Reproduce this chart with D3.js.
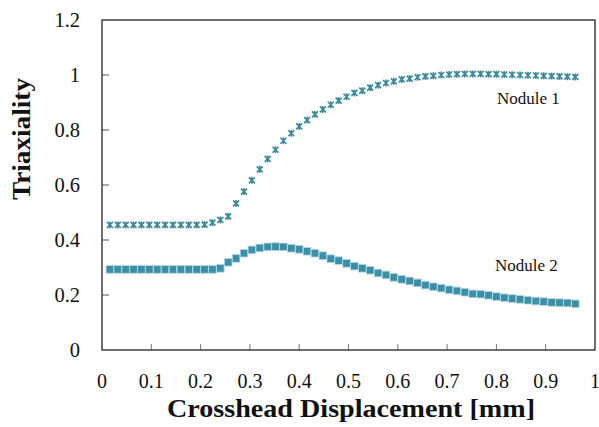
<!DOCTYPE html>
<html>
<head>
<meta charset="utf-8">
<script src="https://cdn.jsdelivr.net/npm/d3@7"></script>
<style>
  body { margin: 0; background: #fff; }
  text { font-family: Garamond, "Liberation Serif", "DejaVu Serif", serif; fill: #111; }
</style>
</head>
<body>
<div id="canvas"></div>
<script>
// DATA
const step = 0.016;
const nodule1 = [
  0.455, 0.455, 0.455, 0.455, 0.455, 0.455, 0.455, 0.455, 0.455, 0.455,
  0.455, 0.455, 0.456, 0.463, 0.473, 0.486, 0.533, 0.576, 0.617, 0.657,
  0.695, 0.728, 0.761, 0.788, 0.813, 0.836, 0.857, 0.875, 0.892, 0.907,
  0.921, 0.935, 0.943, 0.954, 0.963, 0.971, 0.977, 0.984, 0.987, 0.992,
  0.995, 0.997, 1.0, 1.002, 1.003, 1.004, 1.004, 1.004, 1.003, 1.003,
  1.002, 1.001, 1.0, 0.999, 0.998, 0.997, 0.996, 0.995, 0.994, 0.993
];
const nodule2 = [
  0.293, 0.293, 0.293, 0.293, 0.293, 0.293, 0.293, 0.293, 0.293, 0.293,
  0.293, 0.293, 0.293, 0.293, 0.297, 0.319, 0.333, 0.352, 0.364, 0.371,
  0.375, 0.376, 0.375, 0.370, 0.366, 0.359, 0.352, 0.343, 0.332, 0.325,
  0.315, 0.305, 0.297, 0.290, 0.280, 0.273, 0.264, 0.257, 0.251, 0.244,
  0.236, 0.230, 0.225, 0.219, 0.215, 0.210, 0.204, 0.203, 0.199, 0.194,
  0.190, 0.187, 0.184, 0.181, 0.178, 0.176, 0.173, 0.172, 0.171, 0.168
];
const xTicks = [0, 0.1, 0.2, 0.3, 0.4, 0.5, 0.6, 0.7, 0.8, 0.9, 1];
const yTicks = [0, 0.2, 0.4, 0.6, 0.8, 1, 1.2];

// DIMENSIONS
const width = 599;
const height = 427;
const margin = { top: 20, right: 4, bottom: 77, left: 102 };
const plot_width = width - margin.left - margin.right;
const plot_height = height - margin.top - margin.bottom;

const svg = d3.select("#canvas").append("svg")
  .attr("width", width)
  .attr("height", height);

const plot = svg.append("g")
  .attr("transform", `translate(${margin.left},${margin.top})`);

// SCALES
const x = d3.scaleLinear().domain([0, 1]).range([0, plot_width]);
const y = d3.scaleLinear().domain([0, 1.2]).range([plot_height, 0]);

// TICKS (inward)
plot.selectAll("line.xtick")
  .data(xTicks.slice(1, -1))
  .join("line")
  .attr("x1", d => x(d)).attr("x2", d => x(d))
  .attr("y1", plot_height).attr("y2", plot_height - 6)
  .attr("stroke", "#777").attr("stroke-width", 1);

plot.selectAll("line.ytick")
  .data(yTicks.slice(1, -1))
  .join("line")
  .attr("x1", 0).attr("x2", 7)
  .attr("y1", d => y(d)).attr("y2", d => y(d))
  .attr("stroke", "#555").attr("stroke-width", 1);

// FRAME
plot.append("rect")
  .attr("x", 0).attr("y", 0)
  .attr("width", plot_width).attr("height", plot_height)
  .attr("fill", "none").attr("stroke", "#222").attr("stroke-width", 1.3);

// TICK LABELS
svg.append("g").selectAll("text")
  .data(xTicks)
  .join("text")
  .attr("x", d => margin.left + x(d))
  .attr("y", margin.top + plot_height + 38)
  .attr("text-anchor", "middle")
  .style("font-size", "20px")
  .text(d => d);

svg.append("g").selectAll("text")
  .data(yTicks)
  .join("text")
  .attr("x", 80)
  .attr("y", d => margin.top + y(d) + 6.5)
  .attr("text-anchor", "end")
  .style("font-size", "20.5px")
  .text(d => d);

// AXIS TITLES
svg.append("text")
  .attr("x", 351).attr("y", 417)
  .attr("text-anchor", "middle")
  .attr("textLength", 368).attr("lengthAdjust", "spacingAndGlyphs")
  .style("font-size", "26px").style("font-weight", "bold")
  .text("Crosshead Displacement [mm]");

svg.append("text")
  .attr("transform", "translate(30,139) rotate(-90)")
  .attr("text-anchor", "middle")
  .attr("textLength", 122).attr("lengthAdjust", "spacingAndGlyphs")
  .style("font-size", "26px").style("font-weight", "bold")
  .text("Triaxiality");

// NODULE 2 (squares)
plot.selectAll("rect.sq")
  .data(nodule2)
  .join("rect")
  .attr("class", "sq")
  .attr("x", (d, i) => x(step * (i + 1)) - 3.8)
  .attr("y", d => y(d) - 3.8)
  .attr("width", 7.6).attr("height", 7.6)
  .attr("fill", "#3b8fa7")
  .attr("stroke", "#b5d8e2").attr("stroke-width", 0.8);

// NODULE 1 (star markers)
const star = "M-3,-3L3,3M-3,3L3,-3M0,-3.5L0,3.5";
plot.selectAll("path.star")
  .data(nodule1)
  .join("path")
  .attr("class", "star")
  .attr("transform", (d, i) => `translate(${x(step * (i + 1))},${y(d)})`)
  .attr("d", star)
  .attr("fill", "none")
  .attr("stroke", "#3a8899").attr("stroke-width", 1.6);

// LABELS
svg.append("text")
  .attr("x", 497).attr("y", 104)
  .style("font-size", "17px")
  .text("Nodule 1");

svg.append("text")
  .attr("x", 495).attr("y", 271)
  .style("font-size", "17px")
  .text("Nodule 2");
</script>
</body>
</html>
